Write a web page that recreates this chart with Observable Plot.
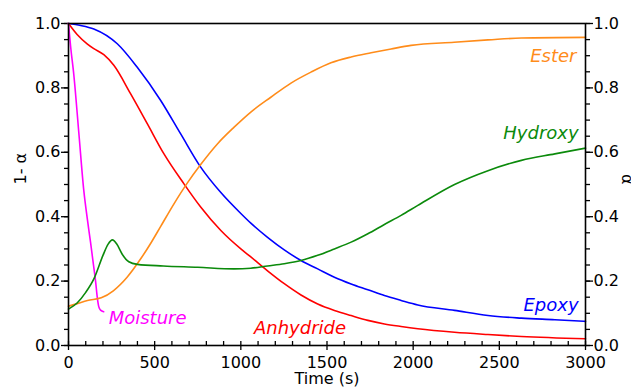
<!DOCTYPE html>
<html>
<head>
<meta charset="utf-8">
<script src="https://cdn.jsdelivr.net/npm/d3@7"></script>
<script src="https://cdn.jsdelivr.net/npm/@observablehq/plot@0.6"></script>
<style>
  html, body { margin: 0; padding: 0; background: #fff; }
  #chart { width: 631px; height: 388px; overflow: hidden; }
</style>
</head>
<body>
<div id="chart"></div>
<script>
// Time (s), value pairs
const epoxy = [[0,1.0],[70,0.994],[147,0.983],[283,0.937],[399,0.864],[535,0.761],[651,0.657],[767,0.554],[884,0.475],[1000,0.410],[1058,0.380],[1155,0.336],[1252,0.297],[1349,0.264],[1446,0.238],[1543,0.212],[1640,0.191],[1737,0.173],[1833,0.155],[1930,0.140],[2027,0.126],[2240,0.109],[2434,0.093],[2628,0.085],[2822,0.080],[3000,0.075]];
const anhydride = [[0,1.0],[50,0.966],[108,0.937],[147,0.922],[205,0.903],[263,0.870],[360,0.782],[457,0.689],[554,0.595],[670,0.502],[767,0.430],[884,0.357],[1000,0.300],[1058,0.275],[1155,0.232],[1252,0.192],[1349,0.157],[1446,0.129],[1543,0.109],[1640,0.093],[1737,0.078],[1833,0.067],[1930,0.059],[2027,0.052],[2240,0.041],[2434,0.034],[2628,0.028],[3000,0.021]];
const moisture = [[0,1.0],[12,0.93],[31,0.84],[60,0.66],[89,0.48],[110,0.39],[128,0.32],[145,0.25],[157,0.20],[168,0.145],[176,0.12],[186,0.11],[204,0.105]];
const ester = [[0,0.122],[50,0.13],[110,0.140],[190,0.148],[260,0.170],[340,0.212],[420,0.27],[480,0.32],[535,0.37],[612,0.44],[690,0.505],[767,0.562],[864,0.626],[961,0.678],[1058,0.725],[1174,0.771],[1291,0.815],[1407,0.849],[1523,0.878],[1640,0.896],[1756,0.909],[1872,0.921],[1988,0.932],[2238,0.942],[2434,0.949],[2628,0.955],[3000,0.957]];
const hydroxy = [[0,0.113],[50,0.132],[100,0.165],[150,0.21],[200,0.28],[230,0.315],[255,0.328],[280,0.315],[310,0.285],[350,0.26],[400,0.252],[550,0.247],[750,0.243],[960,0.238],[1058,0.240],[1155,0.247],[1252,0.254],[1349,0.264],[1446,0.280],[1543,0.300],[1640,0.321],[1737,0.347],[1833,0.376],[1930,0.404],[2027,0.435],[2240,0.500],[2434,0.543],[2628,0.575],[2822,0.595],[3000,0.613]];

const seriesNames = ["Epoxy", "Anhydride", "Moisture", "Ester", "Hydroxy"];
const seriesColors = ["#0000ff", "#ff0000", "#ff00ff", "#ff8c1a", "#0b8a0b"];
// label anchor points (data units) and alignment
const labelT = [2960, 1076, 233, 2948, 2960];
const labelV = [0.124, 0.053, 0.084, 0.898, 0.658];
const labelAnchor = ["end", "start", "start", "end", "end"];

const xTicks = [0, 500, 1000, 1500, 2000, 2500, 3000];
const xMinorTicks = d3.range(0, 3001, 100);
const yTicks = [0, 0.2, 0.4, 0.6, 0.8, 1.0];
const yMinorTicks = d3.range(0, 21).map(i => i * 0.05);

const seriesData = [epoxy, anhydride, moisture, ester, hydroxy];
const rows = seriesData.flatMap((s, i) => s.map(([t, v]) => ({series: seriesNames[i], t, v})));
const labels = seriesNames.map((name, i) => ({name, t: labelT[i], v: labelV[i], anchor: labelAnchor[i], color: seriesColors[i]}));

const font = "DejaVu Sans, Verdana, sans-serif";
const fmt = d3.format(".1f");

const labelMark = (anchor) => Plot.text(labels.filter(d => d.anchor === anchor), {
  x: "t", y: "v", text: "name", fill: "color", textAnchor: anchor,
  fontSize: 18, fontStyle: "italic", fontFamily: font
});

const chart = Plot.plot({
  width: 631,
  height: 388,
  marginLeft: 68,
  marginRight: 46,
  marginTop: 23,
  marginBottom: 43,
  style: {fontFamily: font, fontSize: "16px", color: "#000", background: "#fff", overflow: "visible"},
  x: {domain: [0, 3000]},
  y: {domain: [0, 1]},
  color: {domain: seriesNames, range: seriesColors},
  marks: [
    Plot.axisY({anchor: "left", ticks: yMinorTicks, tickSize: 4, tickFormat: () => "", label: null, strokeWidth: 1.3}),
    Plot.axisY({anchor: "left", ticks: yTicks, tickSize: 7, tickPadding: 1, tickFormat: fmt, label: null, strokeWidth: 1.3}),
    Plot.axisY({anchor: "right", ticks: yMinorTicks, tickSize: 4, tickFormat: () => "", label: null, strokeWidth: 1.3}),
    Plot.axisY({anchor: "right", ticks: yTicks, tickSize: 7, tickPadding: 1, tickFormat: fmt, label: null, strokeWidth: 1.3}),
    Plot.axisX({anchor: "bottom", ticks: xMinorTicks, tickSize: -4, tickFormat: () => "", label: null, strokeWidth: 1.3}),
    Plot.axisX({anchor: "bottom", ticks: xTicks, tickSize: 5, tickPadding: 6, tickFormat: d => String(d), label: null, strokeWidth: 1.3}),
    Plot.line(rows, {x: "t", y: "v", z: "series", stroke: "series", strokeWidth: 1.6, curve: "monotone-x"}),
    Plot.frame({stroke: "#000", strokeWidth: 1.6}),
    labelMark("start"),
    labelMark("end"),
    Plot.text(["1- α"], {frameAnchor: "left", dx: -48, rotate: -90, fontSize: 16, fill: "#000"}),
    Plot.text(["α"], {frameAnchor: "right", dx: 42, rotate: 90, fontSize: 16, fill: "#000"}),
    Plot.text(["Time (s)"], {frameAnchor: "bottom", dy: 38, fontSize: 16, fill: "#000"})
  ]
});
document.getElementById("chart").appendChild(chart);
</script>
</body>
</html>
